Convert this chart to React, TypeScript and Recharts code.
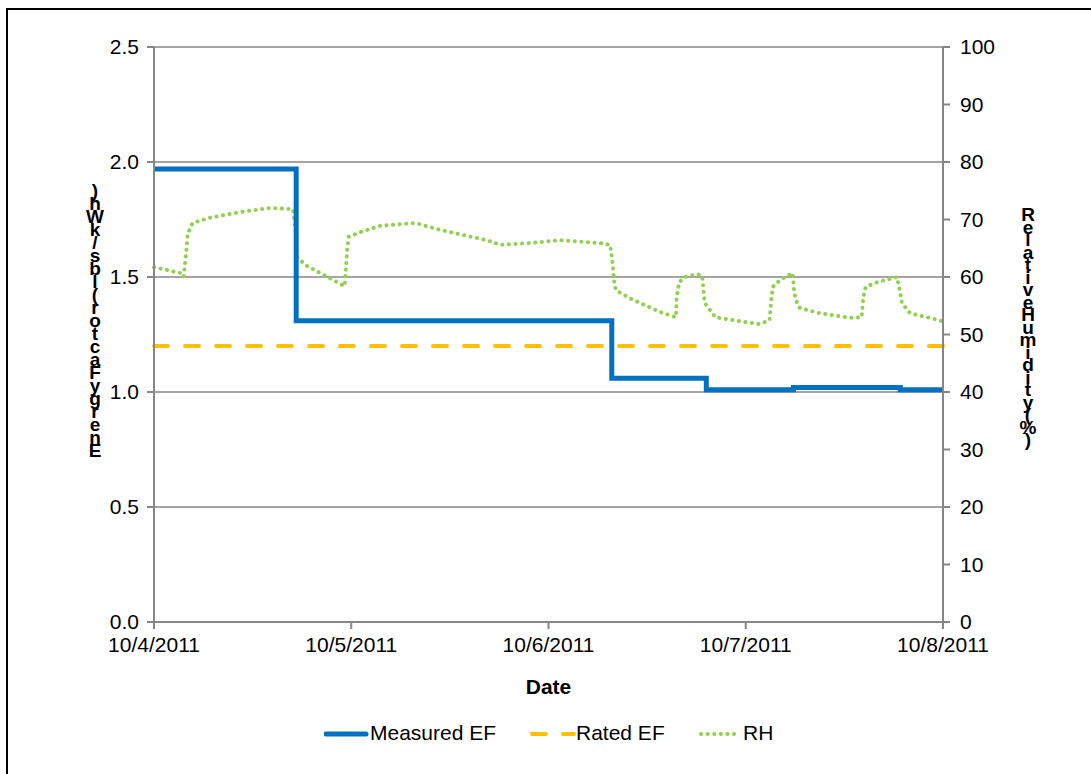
import { LineChart, Line, XAxis, YAxis, CartesianGrid } from "recharts";

const dateLabels = ["10/4/2011", "10/5/2011", "10/6/2011", "10/7/2011", "10/8/2011"];
const dayTicks = [0, 24, 48, 72, 96];
const efTicks = [0, 0.5, 1.0, 1.5, 2.0, 2.5];
const rhTicks = [0, 10, 20, 30, 40, 50, 60, 70, 80, 90, 100];

// hours since 10/4/2011 00:00
const measuredHours = [0, 17.3, 55.7, 67.2, 77.8, 90.8, 96];
const measuredEF = [1.97, 1.31, 1.06, 1.01, 1.02, 1.01, 1.01];

const ratedHours = [0, 96];
const ratedEF = [1.2, 1.2];

const rhHours = [
  0, 3.2, 3.6, 3.9, 4.1, 4.7, 6.8, 10.5, 14.1, 16.9, 17.3, 17.4, 18.4, 20.2, 23.2,
  23.5, 23.7, 25.1, 27.5, 31.8, 34.8, 40.5, 42.1, 45.7, 49.4, 54.3, 55.5, 55.8, 56.0,
  56.2, 57.9, 61.6, 63.5, 63.6, 63.9, 64.6, 66.1, 66.7, 67.0, 68.3, 71.3, 73.7, 74.9,
  75.1, 75.3, 76.2, 77.7, 77.9, 78.1, 78.6, 81.0, 84.7, 86.1, 86.3, 86.6, 88.0, 90.4,
  90.8, 91.0, 92.0, 94.4, 96.0,
];
const rhValues = [
  61.7, 60.7, 60.0, 64.0, 67.5, 69.4, 70.3, 71.3, 72.0, 71.8, 67.6, 63.5, 62.1, 60.7, 58.4,
  64.7, 67.0, 67.8, 68.9, 69.4, 68.2, 66.4, 65.6, 65.9, 66.4, 65.9, 65.6, 62.4, 59.1,
  57.7, 56.3, 53.9, 53.0, 56.5, 59.1, 60.0, 60.5, 60.2, 55.5, 53.0, 52.3, 51.8, 52.5,
  56.0, 58.3, 59.5, 60.7, 57.4, 56.0, 54.6, 53.7, 52.9, 53.0, 56.5, 58.3, 59.1, 60.0,
  57.2, 55.5, 53.7, 52.9, 52.3,
];

const measuredData = measuredHours.map((h, i) => ({ h, ef: measuredEF[i] }));
const ratedData = ratedHours.map((h, i) => ({ h, ef: ratedEF[i] }));
const rhData = rhHours.map((h, i) => ({ h, rh: rhValues[i] }));

const FONT = "'Liberation Sans', Arial, sans-serif";
const AXIS = "#868686";
const BLUE = "#0070C0";
const ORANGE = "#FFC000";
const GREEN = "#92D050";

// Excel-style stacked title: one upright vertical text run, tightly packed
function StackedLabel({ x, top, spacing, text }: { x: number; top: number; spacing: number; text: string }) {
  return (
    <text
      x={x}
      y={top}
      fontFamily={FONT}
      fontWeight="bold"
      fontSize={19}
      fill="#000"
      style={{ writingMode: "vertical-rl", textOrientation: "upright", letterSpacing: spacing }}
    >
      {text}
    </text>
  );
}

const tickStyle = { fontFamily: FONT, fontSize: 21, fill: "#000" };

export default function App() {
  return (
    <div style={{ position: "absolute", left: 0, top: 0, width: 1091, height: 774, background: "#fff", overflow: "hidden" }}>
      <div
        style={{
          position: "absolute",
          left: 6,
          top: 8,
          width: 1200,
          height: 900,
          border: "2px solid #000",
          boxSizing: "border-box",
        }}
      />
      <div style={{ position: "absolute", left: 0, top: 0 }}>
        <LineChart width={1091} height={774} margin={{ top: 47, right: 88, left: 94, bottom: 72 }}>
          <CartesianGrid yAxisId="left" vertical={false} stroke={AXIS} strokeWidth={1.5} />
          <XAxis
            dataKey="h"
            type="number"
            domain={[0, 96]}
            ticks={dayTicks}
            tickFormatter={(v: number) => dateLabels[dayTicks.indexOf(v)]}
            stroke={AXIS}
            strokeWidth={2}
            tickSize={7}
            tickMargin={8}
            tick={tickStyle}
            height={80}
            allowDuplicatedCategory={false}
            label={{
              value: "Date",
              position: "insideBottom",
              offset: 8,
              style: { fontFamily: FONT, fontSize: 21, fontWeight: "bold", fill: "#000" },
            }}
          />
          <YAxis
            yAxisId="left"
            domain={[0, 2.5]}
            ticks={efTicks}
            tickFormatter={(v: number) => v.toFixed(1)}
            stroke={AXIS}
            strokeWidth={2}
            tickSize={7}
            tickMargin={8}
            tick={tickStyle}
            width={60}
          />
          <YAxis
            yAxisId="right"
            orientation="right"
            domain={[0, 100]}
            ticks={rhTicks}
            stroke={AXIS}
            strokeWidth={2}
            tickSize={7}
            tickMargin={10}
            tick={tickStyle}
            width={60}
          />
          <Line
            yAxisId="right"
            data={rhData}
            dataKey="rh"
            type="linear"
            stroke={GREEN}
            strokeWidth={4}
            strokeDasharray="0.1 6.5"
            strokeLinecap="round"
            dot={false}
            isAnimationActive={false}
          />
          <Line
            yAxisId="left"
            data={ratedData}
            dataKey="ef"
            type="linear"
            stroke={ORANGE}
            strokeWidth={4}
            strokeDasharray="14 17"
            strokeLinecap="round"
            dot={false}
            isAnimationActive={false}
          />
          <Line
            yAxisId="left"
            data={measuredData}
            dataKey="ef"
            type="stepAfter"
            stroke={BLUE}
            strokeWidth={5}
            dot={false}
            isAnimationActive={false}
          />
          <StackedLabel x={95} top={180} spacing={-8} text={")hWk/sbl(rotcaFygrenE"} />
          <StackedLabel x={1028} top={204} spacing={-8.5} text={"RelativeHumidity(%)"} />
        </LineChart>
      </div>
      <div style={{ position: "absolute", left: 0, top: 721, width: 1091, height: 26, fontFamily: FONT, fontSize: 21 }}>
        <svg style={{ position: "absolute", left: 324, top: 0 }} width={46} height={26}>
          <line x1={2} y1={13} x2={42} y2={13} stroke={BLUE} strokeWidth={5} strokeLinecap="round" />
        </svg>
        <span style={{ position: "absolute", left: 370, top: 0 }}>Measured EF</span>
        <svg style={{ position: "absolute", left: 528, top: 0 }} width={48} height={26}>
          <line x1={4} y1={13} x2={46} y2={13} stroke={ORANGE} strokeWidth={4} strokeDasharray="14 17" strokeLinecap="round" />
        </svg>
        <span style={{ position: "absolute", left: 576, top: 0 }}>Rated EF</span>
        <svg style={{ position: "absolute", left: 698, top: 0 }} width={46} height={26}>
          <line x1={3} y1={13} x2={42} y2={13} stroke={GREEN} strokeWidth={4} strokeDasharray="0.1 6.5" strokeLinecap="round" />
        </svg>
        <span style={{ position: "absolute", left: 743, top: 0 }}>RH</span>
      </div>
    </div>
  );
}
